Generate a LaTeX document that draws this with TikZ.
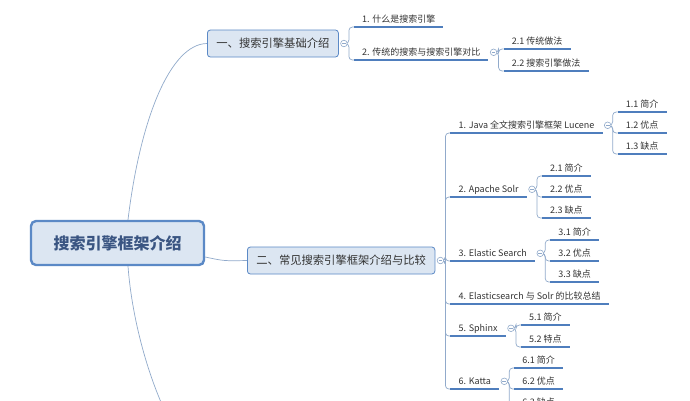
\documentclass[tikz,border=0pt]{standalone}
\usepackage{fontspec}
\setmainfont{Noto Sans CJK SC}
\usetikzlibrary{positioning,backgrounds}

\definecolor{boxfill}{HTML}{DCE6F2}
\definecolor{boxline}{HTML}{5B89C6}
\definecolor{ulinec}{HTML}{4F7EBD}
\definecolor{linkc}{HTML}{91AACB}
\definecolor{txt}{HTML}{333333}
\definecolor{roottxt}{HTML}{3A5582}

\begin{document}
\begin{tikzpicture}[x=1pt, y=-1pt,
    root/.style={draw=boxline, fill=boxfill, line width=2.4pt, rounded corners=5pt,
      minimum width=173pt, minimum height=44pt, text=roottxt,
      font=\fontsize{16}{18}\selectfont\bfseries},
    branch/.style={draw=boxline, fill=boxfill, line width=0.8pt, rounded corners=3pt,
      anchor=west, inner xsep=9pt, minimum height=27pt, text=txt,
      font=\fontsize{11.3}{13}\selectfont},
    uline/.style={draw=ulinec, line width=1.6pt},
    leaf/.style={anchor=south west, inner xsep=8pt, inner ysep=2pt, text height=8.5pt,
      text depth=2.5pt, text=txt, font=\fontsize{9}{11}\selectfont,
      append after command={(\tikzlastnode.south west) edge[uline] (\tikzlastnode.south east)}},
    fold/.style={circle, draw=linkc, fill=white, line width=0.6pt, minimum size=6.6pt,
      inner sep=0pt, path picture={\draw[linkc, line width=0.6pt]
        ([xshift=1.4pt]path picture bounding box.west) -- ([xshift=-1.4pt]path picture bounding box.east);}},
    link/.style={draw=linkc, line width=0.7pt},
    elbow/.style={link, rounded corners=3.5pt}]

    \useasboundingbox (0,0) rectangle (690,400);

    % central topic
    \node[root] (root) at (117.5,243) {搜索引擎框架介绍};
    \coordinate (more) at (180,440);

    % main topics
    \node[branch] (basic) at (207,43.5) {一、搜索引擎基础介绍};
    \node[fold, right=1.5pt of basic] (fbasic) {};
    \node[branch] (frame) at (247,260.5) {二、常见搜索引擎框架介绍与比较};
    \node[fold, right=1.5pt of frame] (fframe) {};

    % part one
    \node[leaf] (what) at ([xshift=10pt]fbasic.center |- 0,27) {1. 什么是搜索引擎};
    \node[leaf] (cmp) at ([xshift=10pt]fbasic.center |- 0,60) {2. 传统的搜索与搜索引擎对比};
    \node[fold, right=1.5pt of cmp] (fcmp) {};
    \node[leaf] (cmpA) at ([xshift=10pt]fcmp.center |- 0,49) {2.1 传统做法};
    \node[leaf] (cmpB) at ([xshift=10pt]fcmp.center |- 0,71) {2.2 搜索引擎做法};

    % part two
    \node[leaf] (lucene) at ([xshift=10pt]fframe.center |- 0,133) {1. Java 全文搜索引擎框架 Lucene};
    \node[fold, right=1.5pt of lucene] (flucene) {};
    \node[leaf] (solr) at ([xshift=10pt]fframe.center |- 0,197) {2. Apache Solr};
    \node[fold, right=1.5pt of solr] (fsolr) {};
    \node[leaf] (es) at ([xshift=10pt]fframe.center |- 0,261) {3. Elastic Search};
    \node[fold, right=1.5pt of es] (fes) {};
    \node[leaf] (summary) at ([xshift=10pt]fframe.center |- 0,304) {4. Elasticsearch 与 Solr 的比较总结};
    \node[leaf] (sphinx) at ([xshift=10pt]fframe.center |- 0,336) {5. Sphinx};
    \node[fold, right=1.5pt of sphinx] (fsphinx) {};
    \node[leaf] (katta) at ([xshift=10pt]fframe.center |- 0,389) {6. Katta};
    \node[fold, right=1.5pt of katta] (fkatta) {};

    % details
    \node[leaf] (luceneA) at ([xshift=10pt]flucene.center |- 0,112) {1.1 简介};
    \node[leaf] (luceneB) at ([xshift=10pt]flucene.center |- 0,133) {1.2 优点};
    \node[leaf] (luceneC) at ([xshift=10pt]flucene.center |- 0,154) {1.3 缺点};
    \node[leaf] (solrA) at ([xshift=10pt]fsolr.center |- 0,176) {2.1 简介};
    \node[leaf] (solrB) at ([xshift=10pt]fsolr.center |- 0,197) {2.2 优点};
    \node[leaf] (solrC) at ([xshift=10pt]fsolr.center |- 0,218) {2.3 缺点};
    \node[leaf] (esA) at ([xshift=10pt]fes.center |- 0,240) {3.1 简介};
    \node[leaf] (esB) at ([xshift=10pt]fes.center |- 0,261) {3.2 优点};
    \node[leaf] (esC) at ([xshift=10pt]fes.center |- 0,282) {3.3 缺点};
    \node[leaf] (sphinxA) at ([xshift=10pt]fsphinx.center |- 0,325) {5.1 简介};
    \node[leaf] (sphinxB) at ([xshift=10pt]fsphinx.center |- 0,347) {5.2 特点};
    \node[leaf] (kattaA) at ([xshift=10pt]fkatta.center |- 0,368) {6.1 简介};
    \node[leaf] (kattaB) at ([xshift=10pt]fkatta.center |- 0,389) {6.2 优点};
    \node[leaf] (kattaC) at ([xshift=10pt]fkatta.center |- 0,410) {6.3 缺点};

    % connectors
    \begin{scope}[on background layer]
      \fill[white] (0,0) rectangle (690,400);
      \draw[link] ([xshift=10.5pt]root.north) .. controls (140,120) and (170,44) .. (basic.west);
      \draw[link] ([yshift=-14pt]root.east) .. controls (224,261) .. (frame.west);
      \draw[link] ([xshift=10.5pt]root.south) .. controls (132,320) and (150,390) .. (more);
      \foreach \f/\c in {fbasic/what, fbasic/cmp, fcmp/cmpA, fcmp/cmpB,
          fframe/lucene, fframe/solr, fframe/es, fframe/summary, fframe/sphinx, fframe/katta,
          flucene/luceneA, flucene/luceneB, flucene/luceneC,
          fsolr/solrA, fsolr/solrB, fsolr/solrC, fes/esA, fes/esB, fes/esC,
          fsphinx/sphinxA, fsphinx/sphinxB, fkatta/kattaA, fkatta/kattaB, fkatta/kattaC}
        \draw[elbow] (\f.center) -- ++(5,0) |- (\c.south west);
    \end{scope}
\end{tikzpicture}
\end{document}
